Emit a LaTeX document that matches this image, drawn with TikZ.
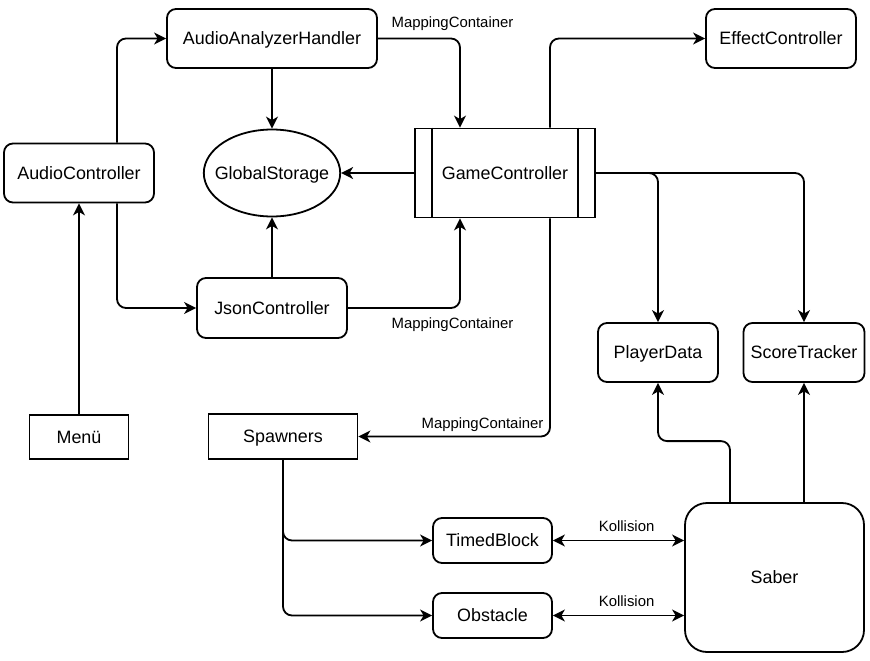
\documentclass[tikz,border=0pt]{standalone}
\usepackage{fontspec}
\setmainfont{Liberation Sans}
\usetikzlibrary{arrows.meta,shapes.geometric,positioning}

\begin{document}
\begin{tikzpicture}[x=1pt,y=-1pt,>={Stealth[length=12pt,width=12pt,inset=3.5pt]},line width=1.8pt,
  comp/.style={draw,rounded corners=9pt,inner sep=0pt,text depth=0pt,font=\fontsize{17.9}{21}\selectfont},
  plain/.style={draw,inner sep=0pt,text depth=0pt,font=\fontsize{17.9}{21}\selectfont},
  lbl/.style={inner sep=0pt,anchor=center,font=\fontsize{14.9}{17}\selectfont},
  wire/.style={->,rounded corners=9pt}]

\useasboundingbox (0,0) rectangle (870,661);

\node[comp,minimum width=210pt,minimum height=59pt]   (aah)  at (272,38.5)    {AudioAnalyzerHandler};
\node[comp,minimum width=150pt,minimum height=59pt]   (ec)   at (781,38.5)    {EffectController};
\node[comp,minimum width=150pt,minimum height=59pt]   (ac)   at (79,173)      {AudioController};
\node[plain,ellipse,inner xsep=-9pt,minimum width=135pt,minimum height=87pt] (gs) at (272,173) {GlobalStorage};
\node[plain,minimum width=180pt,minimum height=89pt]  (gc)   at (505,173)     {GameController};
\node[comp,minimum width=150pt,minimum height=60pt]   (jc)   at (272,308)     {JsonController};
\node[comp,minimum width=120pt,minimum height=59pt]   (pd)   at (658,352.5)   {PlayerData};
\node[comp,minimum width=121pt,minimum height=59pt]   (st)   at (804,352.5)   {ScoreTracker};
\node[plain,minimum width=99pt,minimum height=44pt]   (menu) at (79,437)      {Menü};
\node[plain,minimum width=149pt,minimum height=45pt]  (sp)   at (283,436.5)   {Spawners};
\node[comp,minimum width=119pt,minimum height=45pt]   (tb)   at (492.5,540.5) {TimedBlock};
\node[comp,minimum width=119pt,minimum height=45pt]   (ob)   at (492.5,615.5) {Obstacle};
\node[comp,rounded corners=22pt,minimum width=179pt,minimum height=149pt] (sab) at (774.5,577.5) {Saber};

% side bars of the GameController box
\draw ([xshift=18pt]gc.north west) -- ([xshift=18pt]gc.south west)
      ([xshift=-18pt]gc.north east) -- ([xshift=-18pt]gc.south east);

\draw[wire] ([xshift=38pt]ac.north) |- (aah.west);
\draw[wire] ([xshift=38pt]ac.south) |- (jc.west);
\draw[wire] (menu) -- (ac);
\draw[wire] (aah) -- (gs);
\draw[wire] (jc) -- (gs);
\draw[wire] (aah.east) -| node[lbl,pos=0.5,xshift=-7.5pt,yshift=14.5pt]{MappingContainer} ([xshift=-45pt]gc.north);
\draw[wire] (jc.east) -| node[lbl,pos=0.5,xshift=-7.5pt,yshift=-17pt]{MappingContainer} ([xshift=-45pt]gc.south);
\draw[wire] (gc.west) -- (gs.east);
\draw[wire] ([xshift=45pt]gc.north) |- (ec.west);
\draw[wire] (gc.east) -| (pd.north);
\draw[wire] (gc.east) -| (st.north);
\draw[wire] ([xshift=45pt]gc.south) |- node[lbl,pos=0.5,xshift=-67.5pt,yshift=12pt]{MappingContainer} (sp.east);

\draw[wire] (sp.south) |- (tb.west);
\draw[wire] (sp.south) |- (ob.west);
\draw[<->] (tb.east) -- node[lbl,pos=0.562,yshift=14pt]{Kollision} (tb.east -| sab.west);
\draw[<->] (ob.east) -- node[lbl,pos=0.562,yshift=14pt]{Kollision} (ob.east -| sab.west);
\draw[wire] ([xshift=-44.5pt]sab.north) -- ++(0,-61) -| (pd.south);
\draw[wire] (st.south |- sab.north) -- (st.south);

\end{tikzpicture}
\end{document}
